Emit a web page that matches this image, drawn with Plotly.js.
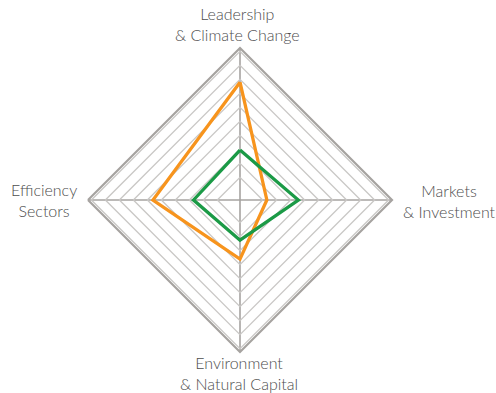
<!DOCTYPE html>
<html>
<head>
<meta charset="utf-8">
<script src="https://cdn.plot.ly/plotly-3.0.1.min.js"></script>
<style>
  html, body { margin: 0; padding: 0; background: #fff; }
  #chart { width: 496px; height: 393px; }
</style>
</head>
<body>
<div id="chart"></div>
<script>
// axes of the radar, clockwise from the top
const categories = ['Leadership<br>& Climate Change', 'Markets<br>& Investment', 'Environment<br>& Natural Capital', 'Efficiency<br>Sectors'];
const orangeValues = [7.8, 1.3, 3.6, 5.6];
const greenValues = [2.95, 3.55, 2.25, 2.7];
const ringValues = [1, 2, 3, 4, 5, 6, 7, 8, 9, 10];

function closeLoop(arr) {
  return arr.concat([arr[0]]);
}

const axisGray = '#a6a3a0';
const ringGray = '#c9c7c5';

const orangeTrace = {
  type: 'scatterpolar',
  r: closeLoop(orangeValues),
  theta: closeLoop(categories),
  mode: 'lines',
  line: { color: '#f7941d', width: 3.3 },
  hoverinfo: 'skip'
};

const greenTrace = {
  type: 'scatterpolar',
  r: closeLoop(greenValues),
  theta: closeLoop(categories),
  mode: 'lines',
  line: { color: '#1b9a46', width: 3.3 },
  hoverinfo: 'skip'
};

// labels placed around the diamond
const labelPos = [
  { x: 237, y: 24 },
  { x: 449, y: 201 },
  { x: 44, y: 200 },
  { x: 239, y: 373 }
];
const labelIdx = [0, 1, 3, 2];
const annotations = labelIdx.map((ci, i) => ({
  text: categories[ci],
  x: labelPos[i].x / 496,
  y: 1 - labelPos[i].y / 393,
  xref: 'paper', yref: 'paper',
  xanchor: 'center', yanchor: 'middle',
  showarrow: false,
  align: 'center',
  font: { family: 'Lato, sans-serif', size: 16, weight: 300, color: '#4d4d4d' }
}));

const layout = {
  width: 496,
  height: 393,
  margin: { t: 0, r: 0, b: 0, l: 0 },
  showlegend: false,
  paper_bgcolor: '#ffffff',
  polar: {
    domain: { x: [88 / 496, 392 / 496], y: [41 / 393, 345 / 393] },
    gridshape: 'linear',
    bgcolor: '#ffffff',
    radialaxis: {
      range: [-0.62, 10.24],
      tickvals: ringValues,
      showticklabels: false,
      ticks: '',
      showline: false,
      gridcolor: ringGray,
      gridwidth: 1.3
    },
    angularaxis: {
      rotation: 90,
      direction: 'clockwise',
      showticklabels: false,
      ticks: '',
      showline: true,
      linecolor: axisGray,
      linewidth: 2.2,
      gridcolor: axisGray,
      gridwidth: 1.6
    }
  },
  annotations: annotations
};

Plotly.newPlot('chart', [orangeTrace, greenTrace], layout, { displayModeBar: false, staticPlot: true });
</script>
</body>
</html>
